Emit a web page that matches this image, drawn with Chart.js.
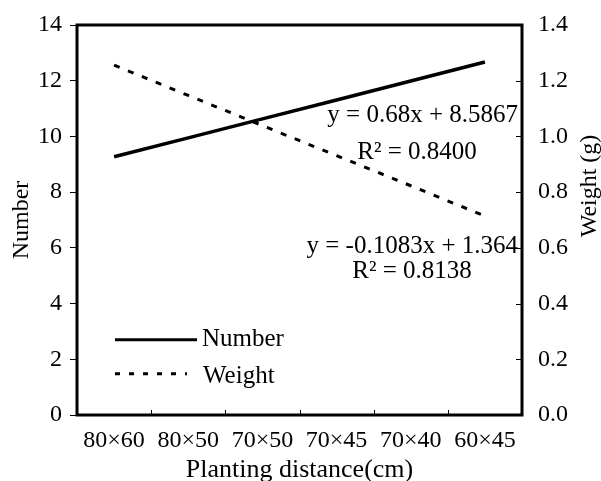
<!DOCTYPE html>
<html>
<head>
<meta charset="utf-8">
<script src="https://cdn.jsdelivr.net/npm/chart.js@4/dist/chart.umd.min.js"></script>
<style>
  html, body { margin: 0; padding: 0; background: #fff; }
  #wrap { width: 601px; height: 481px; }
</style>
</head>
<body>
<div id="wrap"><canvas id="chart" width="601" height="481"></canvas></div>
<script>
// categories and series
var spacings = ["80×60", "80×50", "70×50", "70×45", "70×40", "60×45"];
var numberValues = [9.27, 9.95, 10.63, 11.31, 11.99, 12.67];
var weightValues = [1.256, 1.147, 1.039, 0.931, 0.823, 0.714];
var leftTicks = [0, 2, 4, 6, 8, 10, 12, 14];
var rightTicks = [0.0, 0.2, 0.4, 0.6, 0.8, 1.0, 1.2, 1.4];

var serif = "'Liberation Serif', 'Times New Roman', serif";

// frame, inner tick marks, legend inside the plot, right title, regression labels
var extras = {
  id: 'extras',
  afterDraw: function(chart) {
    var ctx = chart.ctx, a = chart.chartArea, y = chart.scales.y, y1 = chart.scales.y1, x = chart.scales.x;
    ctx.save();
    ctx.strokeStyle = '#000';
    ctx.fillStyle = '#000';

    // small inner ticks on the right axis and between categories
    ctx.lineWidth = 1;
    ctx.beginPath();
    y1.ticks.forEach(function(t) {
      var py = Math.round(y1.getPixelForValue(t.value)) + 0.5;
      ctx.moveTo(a.right - 6, py);
      ctx.lineTo(a.right, py);
    });
    for (var i = 0; i < spacings.length - 1; i++) {
      var px = Math.round((x.getPixelForValue(i) + x.getPixelForValue(i + 1)) / 2) + 0.5;
      ctx.moveTo(px, a.bottom);
      ctx.lineTo(px, a.bottom - 5);
    }
    ctx.stroke();

    ctx.lineWidth = 3;
    ctx.strokeRect(a.left, a.top, a.right - a.left, a.bottom - a.top);

    // legend
    ctx.font = '25px ' + serif;
    ctx.textBaseline = 'middle';
    ctx.textAlign = 'left';
    ctx.lineWidth = 3;
    ctx.beginPath();
    ctx.moveTo(a.left + 38, y.getPixelForValue(2.7));
    ctx.lineTo(a.left + 120, y.getPixelForValue(2.7));
    ctx.stroke();
    ctx.fillText('Number', a.left + 125, y.getPixelForValue(2.7));
    ctx.setLineDash([5, 9]);
    ctx.beginPath();
    ctx.moveTo(a.left + 38, y.getPixelForValue(1.48));
    ctx.lineTo(a.left + 110, y.getPixelForValue(1.48));
    ctx.stroke();
    ctx.setLineDash([]);
    ctx.fillText('Weight', a.left + 126, y.getPixelForValue(1.4));

    // trend line equations
    ctx.textAlign = 'right';
    ctx.fillText('y = 0.68x + 8.5867', a.right - 4, y.getPixelForValue(10.75));
    ctx.fillText('y = -0.1083x + 1.364', a.right - 4, y.getPixelForValue(6.06));
    ctx.textAlign = 'center';
    ctx.fillText('R² = 0.8400', 417, y.getPixelForValue(9.42));
    ctx.fillText('R² = 0.8138', 412, y.getPixelForValue(5.16));

    // right axis title, read bottom to top like the left one
    ctx.font = '24px ' + serif;
    ctx.translate(590, 186);
    ctx.rotate(-Math.PI / 2);
    ctx.fillText('Weight (g)', 0, 0);
    ctx.restore();
  }
};

new Chart(document.getElementById('chart'), {
  type: 'line',
  data: {
    labels: spacings,
    datasets: [{
      label: 'Number',
      data: numberValues,
      yAxisID: 'y',
      borderColor: '#000',
      borderWidth: 3.5,
      pointRadius: 0,
      tension: 0
    }, {
      label: 'Weight',
      data: weightValues,
      yAxisID: 'y1',
      borderColor: '#000',
      borderWidth: 3,
      borderDash: [6, 9],
      pointRadius: 0,
      tension: 0
    }]
  },
  options: {
    responsive: false,
    animation: false,
    layout: { padding: { top: 25, left: 0, right: 0, bottom: 0 } },
    plugins: { legend: { display: false }, tooltip: { enabled: false } },
    scales: {
      x: {
        offset: true,
        grid: { display: false },
        border: { display: false },
        ticks: { color: '#000', font: { family: serif, size: 24 }, padding: 3, maxRotation: 0 },
        title: { display: true, text: 'Planting distance(cm)', color: '#000', font: { family: serif, size: 26 }, padding: { top: 0, bottom: -5 } },
        afterFit: function(s) { s.height = 66; s.paddingLeft = 0; s.paddingRight = 0; }
      },
      y: {
        position: 'left',
        min: 0, max: 14,
        afterBuildTicks: function(s) { s.ticks = leftTicks.map(function(v) { return { value: v }; }); },
        grid: { drawOnChartArea: false, tickLength: 7, color: '#000', lineWidth: 1 },
        border: { display: false },
        ticks: { color: '#000', font: { family: serif, size: 24 }, padding: 8 },
        title: { display: true, text: 'Number', color: '#000', font: { family: serif, size: 24 }, padding: { top: 7, bottom: 0 } },
        afterFit: function(s) { s.width = 77; s.paddingTop = 0; s.paddingBottom = 0; }
      },
      y1: {
        position: 'right',
        min: 0, max: 1.4,
        afterBuildTicks: function(s) { s.ticks = rightTicks.map(function(v) { return { value: v }; }); },
        grid: { display: false, drawTicks: false },
        border: { display: false },
        ticks: { color: '#000', font: { family: serif, size: 24 }, padding: 16,
                 callback: function(v) { return Number(v).toFixed(1); } },
        afterFit: function(s) { s.width = 79; s.paddingTop = 0; s.paddingBottom = 0; }
      }
    }
  },
  plugins: [extras]
});
</script>
</body>
</html>
